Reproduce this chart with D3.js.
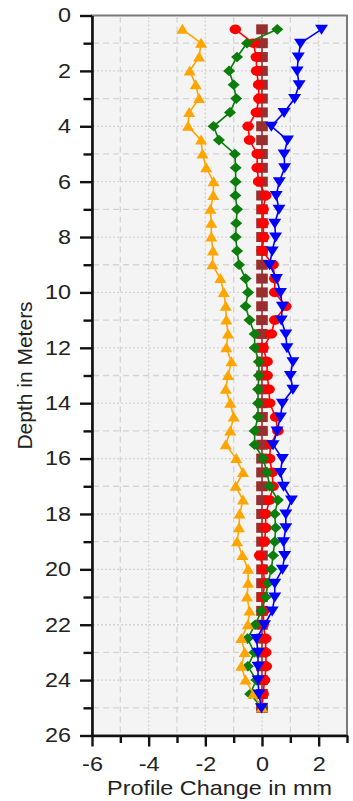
<!DOCTYPE html>
<html><head><meta charset="utf-8">
<script src="https://cdn.jsdelivr.net/npm/d3@7"></script>
<style>
html,body{margin:0;padding:0;background:#fff;}
svg{display:block;}
text{font-family:"Liberation Sans",Arial,sans-serif;fill:#222;}
</style></head>
<body>
<svg id="chart" width="353" height="801"></svg>
<script>
// ---- data ----
const depths = [0.5,1,1.5,2,2.5,3,3.5,4,4.5,5,5.5,6,6.5,7,7.5,8,8.5,9,9.5,10,10.5,11,11.5,12,12.5,13,13.5,14,14.5,15,15.5,16,16.5,17,17.5,18,18.5,19,19.5,20,20.5,21,21.5,22,22.5,23,23.5,24,24.5,25];
const seriesBrown  = [0,0,0,0,0,0,0,0,0,0,0,0,0,0,0,0,0,0,0,0,0,0,0,0,0,0,0,0,0,0,0,0,0,0,0,0,0,0,0,0,0,0,0,0,0,0,0,0,0,0];
const seriesRed    = [-0.94,-0.31,-0.2,-0.19,-0.12,-0.11,-0.2,-0.49,-0.44,-0.17,-0.17,-0.12,0.13,0.04,0.04,0.06,0.01,0.39,0.45,0.45,0.84,0.45,0.33,0.04,0.18,0.18,0.25,0.27,0.48,0.56,0.3,0.27,0.36,0.39,0.27,0.13,0.13,0.09,-0.08,0.05,0.09,0.04,0.06,0.04,0.13,0.13,0.15,0.09,0.04,0.0];
const seriesGreen  = [0.54,-0.53,-0.88,-1.16,-1.0,-0.91,-1.13,-1.71,-1.52,-0.96,-0.93,-0.93,-0.94,-0.88,-0.91,-0.93,-0.88,-0.81,-0.58,-0.49,-0.58,-0.44,-0.26,-0.26,-0.11,-0.11,-0.14,-0.14,-0.14,-0.26,-0.26,0.04,0.18,0.27,0.56,0.45,0.48,0.45,0.39,0.33,0.21,0.13,-0.02,-0.24,-0.51,-0.27,-0.5,-0.2,-0.42,0.0];
const seriesOrange = [-2.81,-2.15,-2.22,-2.55,-2.34,-2.22,-2.57,-2.61,-2.15,-2.1,-1.97,-1.71,-1.72,-1.82,-1.79,-1.79,-1.73,-1.75,-1.47,-1.35,-1.28,-1.26,-1.2,-1.26,-1.08,-1.2,-1.28,-1.12,-1.0,-1.12,-1.28,-0.91,-0.67,-0.93,-0.67,-0.79,-0.81,-0.88,-0.69,-0.49,-0.49,-0.53,-0.44,-0.5,-0.73,-0.61,-0.73,-0.58,-0.3,0.0];
const seriesBlue   = [2.1,1.36,1.28,1.24,1.31,1.15,0.78,0.33,0.9,0.78,0.8,0.61,0.5,0.6,0.45,0.48,0.36,0.27,0.51,0.65,0.72,0.68,0.84,0.88,1.09,1.0,1.09,0.72,0.65,0.53,0.39,0.72,0.65,0.76,1.04,0.84,0.84,0.76,0.8,0.72,0.45,0.45,0.36,0.09,-0.2,-0.14,-0.14,-0.14,-0.11,-0.02];
const xTickLabels = [-6,-4,-2,0,2];
const xMinorTicks = [-5,-3,-1,1,3];
const yTickLabels = [0,2,4,6,8,10,12,14,16,18,20,22,24,26];
const yMinorTicks = [1,3,5,7,9,11,13,15,17,19,21,23,25];
const xTitle = "Profile Change in mm";
const yTitle = "Depth in Meters";

// ---- layout ----
const L = 92, R = 347, T = 15.5, B = 735.5;
const SX = 1.17; // horizontal stretch of the reference text
const svg = d3.select("#chart");
const x = d3.scaleLinear().domain([-6,3]).range([L,R]);
const y = d3.scaleLinear().domain([0,26]).range([T,B]);
const fmt = d => String(d); // plain hyphen-minus as in the reference

// plot background + frame
svg.append("rect").attr("x",L).attr("y",T).attr("width",R-L).attr("height",B-T)
  .attr("fill","#f4f4f4").attr("stroke","#7a7a7a").attr("stroke-width",2);

// grid
const gx = d3.range(-5,3,1), gy = d3.range(1,26,1);
svg.append("g").selectAll("line").data(gx).join("line")
  .attr("x1",d=>x(d)).attr("x2",d=>x(d)).attr("y1",T+1).attr("y2",B-1)
  .attr("stroke","#d4d4d4").attr("stroke-width",1.3)
  .attr("stroke-dasharray",d=>d%2===0?"2,2":"6,4");
svg.append("g").selectAll("line").data(gy).join("line")
  .attr("y1",d=>y(d)).attr("y2",d=>y(d)).attr("x1",L+1).attr("x2",R-1)
  .attr("stroke","#d4d4d4").attr("stroke-width",1.3)
  .attr("stroke-dasharray",d=>d%2===0?"2,2":"6,4");

// axes
function styleAxis(g){
  g.select(".domain").attr("stroke","#111").attr("stroke-width",2.6);
  g.selectAll(".tick line").attr("stroke","#111").attr("stroke-width",2.4);
}
const yAxis = svg.append("g").attr("transform",`translate(${L},0)`)
  .call(d3.axisLeft(y).tickValues(yTickLabels).tickFormat(fmt).tickSize(12).tickSizeOuter(0).tickPadding(9));
const yMinor = svg.append("g").attr("transform",`translate(${L},0)`)
  .call(d3.axisLeft(y).tickValues(yMinorTicks).tickSize(8.5).tickSizeOuter(0).tickFormat(""));
const xAxis = svg.append("g").attr("transform",`translate(0,${B})`)
  .call(d3.axisBottom(x).tickValues(xTickLabels).tickFormat(fmt).tickSize(11).tickSizeOuter(0).tickPadding(10));
const xMinor = svg.append("g").attr("transform",`translate(0,${B})`)
  .call(d3.axisBottom(x).tickValues(xMinorTicks).tickSize(7.5).tickSizeOuter(0).tickFormat(""));
[yAxis,yMinor,xAxis,xMinor].forEach(styleAxis);
yMinor.select(".domain").remove(); xMinor.select(".domain").remove();
yAxis.selectAll(".tick text").attr("font-size",20).attr("font-family",null).attr("fill","#222")
  .attr("x",-21/SX).attr("transform",`scale(${SX},1)`);
xAxis.selectAll(".tick text").attr("font-size",20).attr("font-family",null).attr("fill","#222")
  .attr("transform",`scale(${SX},1)`);

// axis titles
svg.append("text").attr("transform",`translate(${(L+R)/2},795) scale(${SX},1)`)
  .attr("text-anchor","middle").attr("font-size",20).text(xTitle);
svg.append("text").attr("transform",`translate(32,${(T+B)/2}) rotate(-90)`)
  .attr("text-anchor","middle").attr("font-size",21).text(yTitle);

// markers
function shapePath(kind){
  switch(kind){
    case "up":   return "M0,-5.5L6,4.5L-6,4.5Z";
    case "down": return "M0,5.5L6.5,-4.5L-6.5,-4.5Z";
    case "sq":   return "M-5.8,-5L5.8,-5L5.8,5L-5.8,5Z";
    case "dia":  return "M0,-5.3L6,0L0,5.3L-6,0Z";
  }
}
const series = [
  {vals:seriesBrown,  color:"#982e2e", kind:"sq"},
  {vals:seriesRed,    color:"#ff0000", kind:"circle"},
  {vals:seriesGreen,  color:"#0a7d0a", kind:"dia"},
  {vals:seriesOrange, color:"#ffa500", kind:"up"},
  {vals:seriesBlue,   color:"#0000ff", kind:"down"}
];
const line = d3.line().x(d=>x(d[0])).y(d=>y(d[1]));
series.forEach(s=>{
  const pts = s.vals.map((v,i)=>[v,depths[i]]);
  const g = svg.append("g");
  g.append("path").datum(pts).attr("d",line).attr("fill","none")
    .attr("stroke",s.color).attr("stroke-width",1.6);
  if(s.kind==="circle"){
    g.selectAll("ellipse").data(pts).join("ellipse")
      .attr("cx",d=>x(d[0])).attr("cy",d=>y(d[1])).attr("rx",5.8).attr("ry",4.8)
      .attr("fill",s.color);
  } else {
    g.selectAll("path.m").data(pts).join("path").attr("class","m")
      .attr("d",shapePath(s.kind))
      .attr("transform",d=>`translate(${x(d[0])},${y(d[1])})`)
      .attr("fill",s.color);
  }
});
</script>
</body></html>
